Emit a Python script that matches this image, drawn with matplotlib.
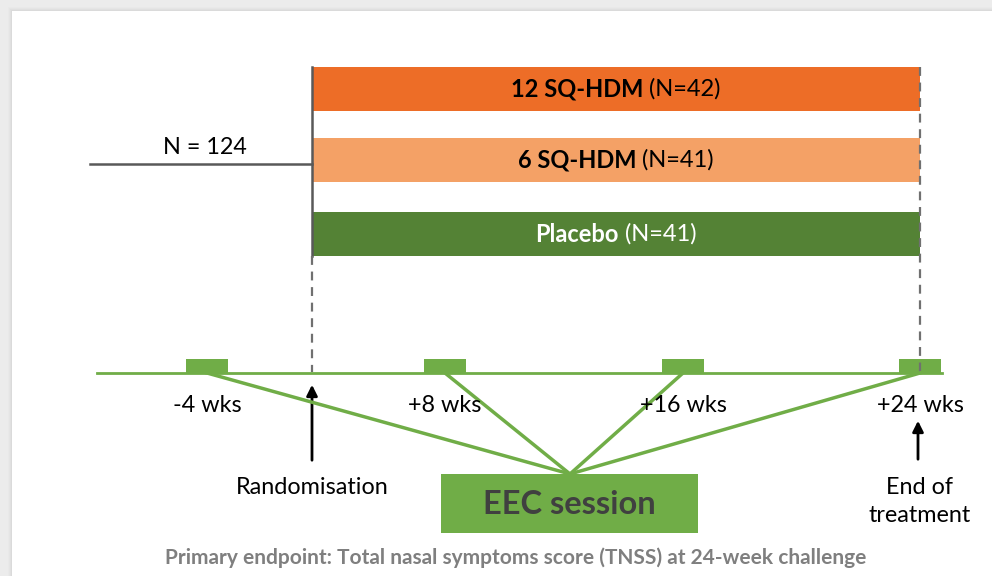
import matplotlib
matplotlib.use("Agg")
import matplotlib.pyplot as plt
from matplotlib.patches import Rectangle, FancyArrowPatch

plt.rcParams['font.family'] = ['Lato', 'DejaVu Sans']

# study arms
arms = ["12 SQ-HDM", "6 SQ-HDM", "Placebo"]
arm_n = [42, 41, 41]
total_n = 124
# EEC challenge time points
visit_labels = ["-4 wks", "+8 wks", "+16 wks", "+24 wks"]
title = "Primary endpoint: Total nasal symptoms score (TNSS) at 24-week challenge"

# layout (pixels)
arm_colors = ["#ED6D27", "#F4A166", "#548235"]
arm_text = ["black", "black", "white"]
arm_tops = [67, 138, 212]
bar_h = 44
x0, x1 = 312, 920
visit_x = [207, 445, 683, 920]
line_y = 373
hub = (570, 474)
green = "#70AD47"
fs = 16.8

fig = plt.figure(figsize=(9.92, 5.76), dpi=100, facecolor="#ececec")
ax = fig.add_axes([0, 0, 1, 1])
ax.set_xlim(0, 992)
ax.set_ylim(576, 0)
ax.axis("off")

# panel with soft shadow
for i, a in enumerate([0.04, 0.05, 0.06, 0.08]):
    ax.add_patch(Rectangle((12 - 4 + i, 11 - 4 + i), 1000, 600, color="#a0a0a0", alpha=a, lw=0))
ax.add_patch(Rectangle((12, 11), 1000, 600, color="white", lw=0))

# arm bars
fig.canvas.draw()
r = fig.canvas.get_renderer()
for arm, n, c, tc, top in zip(arms, arm_n, arm_colors, arm_text, arm_tops):
    ax.add_patch(Rectangle((x0, top), x1 - x0, bar_h, color=c, lw=0))
    cy = top + bar_h / 2
    t1 = ax.text(0, cy, arm, fontsize=17, fontweight="bold", color=tc, va="center", ha="left")
    t2 = ax.text(0, cy, " (N=%d)" % n, fontsize=17, color=tc, va="center", ha="left")
    w1 = t1.get_window_extent(r).width
    w2 = t2.get_window_extent(r).width
    start = (x0 + x1) / 2 - (w1 + w2) / 2
    t1.set_x(start)
    t2.set_x(start + w1)

# randomisation branch
ax.plot([90, x0], [164, 164], color="#595959", lw=1.8)
ax.plot([x0, x0], [67, 256], color="#595959", lw=1.8)
ax.text(205, 147, "N = %d" % total_n, fontsize=fs, ha="center", va="center")
ax.plot([x0, x0], [256, 372], color="#707070", lw=1.6, ls=(0, (4, 3)))
ax.plot([x1, x1], [67, 372], color="#707070", lw=1.6, ls=(0, (4, 3)))

# timeline
ax.plot([97, 942], [line_y, line_y], color=green, lw=2)
for vx, lab in zip(visit_x, visit_labels):
    ax.add_patch(Rectangle((vx - 21, 359), 42, 14, color=green, lw=0))
    ax.plot([vx, hub[0]], [line_y, hub[1]], color=green, lw=2.5)
    ax.text(vx, 406, lab, fontsize=fs, ha="center", va="center")

# arrows
ax.add_patch(FancyArrowPatch((x0, 463), (x0, 382), arrowstyle="-|>", mutation_scale=16, color="black", lw=2))
ax.text(x0, 487, "Randomisation", fontsize=fs, ha="center", va="center")
ax.add_patch(FancyArrowPatch((918, 462), (918, 418), arrowstyle="-|>", mutation_scale=16, color="black", lw=2))
ax.text(920, 487, "End of", fontsize=fs, ha="center", va="center")
ax.text(920, 516, "treatment", fontsize=fs, ha="center", va="center")

# EEC box
ax.add_patch(Rectangle((441, 474), 257, 59, color=green, lw=0))
ax.text(569, 504, "EEC session", fontsize=23.5, fontweight="bold", color="#404040", ha="center", va="center")

ax.text(516, 558, title, fontsize=15, fontweight="bold", color="#7f7f7f", ha="center", va="center")

fig.savefig("out.png", dpi=100, facecolor=fig.get_facecolor())
